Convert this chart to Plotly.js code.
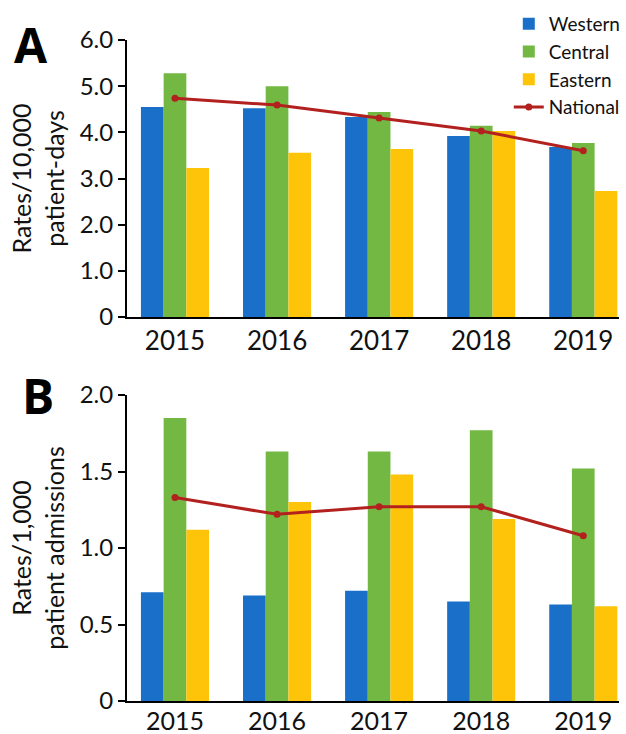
<!DOCTYPE html>
<html>
<head>
<meta charset="utf-8">
<script src="https://cdn.plot.ly/plotly-3.0.1.min.js"></script>
<style>html,body{margin:0;padding:0;background:#fff;}#chart{width:626px;height:734px;}</style>
</head>
<body>
<div id="chart"></div>
<script>
const years = ["2015", "2016", "2017", "2018", "2019"];
// Panel A: rates per 10,000 patient-days
const westernA = [4.55, 4.52, 4.33, 3.92, 3.68];
const centralA = [5.28, 5.00, 4.44, 4.14, 3.77];
const easternA = [3.23, 3.56, 3.64, 4.03, 2.73];
const nationalA = [4.74, 4.59, 4.31, 4.03, 3.60];
// Panel B: rates per 1,000 patient admissions
const westernB = [0.71, 0.69, 0.72, 0.65, 0.63];
const centralB = [1.85, 1.63, 1.63, 1.77, 1.52];
const easternB = [1.12, 1.30, 1.48, 1.19, 0.62];
const nationalB = [1.33, 1.22, 1.27, 1.27, 1.08];
const tickValsA = [0, 1, 2, 3, 4, 5, 6];
const tickTextA = ["0", "1.0", "2.0", "3.0", "4.0", "5.0", "6.0"];
const tickValsB = [0, 0.5, 1, 1.5, 2];
const tickTextB = ["0", "0.5", "1.0", "1.5", "2.0"];

const cBlue = "#1a6fc9", cGreen = "#72b843", cYellow = "#fdc40a", cRed = "#b3211f";
const FONT = "Lato, 'Open Sans', sans-serif";

function bar(name, y, color, xa, ya, show) {
  return {type: "bar", name: name, x: years, y: y, xaxis: xa, yaxis: ya,
    marker: {color: color}, showlegend: show, hoverinfo: "y"};
}
function line(name, y, xa, ya, show) {
  return {type: "scatter", mode: "lines+markers", name: name, x: years, y: y, xaxis: xa, yaxis: ya,
    line: {color: cRed, width: 3}, marker: {color: cRed, size: 7}, showlegend: show};
}

const data = [
  bar("Western", westernA, cBlue, "x", "y", true),
  bar("Central", centralA, cGreen, "x", "y", true),
  bar("Eastern", easternA, cYellow, "x", "y", true),
  line("National", nationalA, "x", "y", true),
  bar("Western", westernB, cBlue, "x2", "y2", false),
  bar("Central", centralB, cGreen, "x2", "y2", false),
  bar("Eastern", easternB, cYellow, "x2", "y2", false),
  line("National", nationalB, "x2", "y2", false)
];

const H = 734;
const xCommon = {type: "category", range: [-0.47, 4.35], showline: true, linecolor: "#000", linewidth: 2,
  ticks: "", showgrid: false, zeroline: false, tickfont: {size: 26, color: "#111", family: FONT}, fixedrange: true};
const yCommon = {showline: true, linecolor: "#000", linewidth: 2, ticks: "outside", ticklen: 7, tickwidth: 2,
  tickcolor: "#000", showgrid: false, zeroline: false, tickfont: {size: 24, color: "#111", family: FONT}, fixedrange: true};

const layout = {
  width: 626, height: 734,
  margin: {l: 127, r: 0, t: 0, b: 0},
  paper_bgcolor: "#fff", plot_bgcolor: "#fff",
  font: {family: FONT, color: "#111"},
  barmode: "group", bargap: 0.333, bargroupgap: 0,
  showlegend: true,
  legend: {x: 0.776, y: 1 - 5 / H, xanchor: "left", yanchor: "top", font: {size: 19, family: FONT, color: "#111"},
    bgcolor: "rgba(0,0,0,0)", tracegroupgap: 0, itemwidth: 30},
  xaxis: Object.assign({}, xCommon, {anchor: "y", domain: [0, 1]}),
  xaxis2: Object.assign({}, xCommon, {anchor: "y2", domain: [0, 1], ticklabelstandoff: -3,
    tickfont: {size: 25, color: "#111", family: FONT}}),
  yaxis: Object.assign({}, yCommon, {anchor: "x", domain: [1 - 317 / H, 1 - 40 / H], range: [0, 6],
    tickvals: tickValsA, ticktext: tickTextA,
    title: {text: "Rates/10,000<br>patient-days", font: {size: 25, family: FONT, color: "#111"}, standoff: 8}}),
  yaxis2: Object.assign({}, yCommon, {anchor: "x2", domain: [1 - 701 / H, 1 - 395 / H], range: [0, 2],
    tickvals: tickValsB, ticktext: tickTextB,
    title: {text: "Rates/1,000<br>patient admissions", font: {size: 25, family: FONT, color: "#111"}, standoff: 8}}),
  annotations: [
    {text: "<b>A</b>", xref: "paper", yref: "paper", xanchor: "left", yanchor: "top",
      showarrow: false, font: {size: 48, family: "'Open Sans', Arial, sans-serif", color: "#000"}},
    {text: "<b>B</b>", xref: "paper", yref: "paper", xanchor: "left", yanchor: "top",
      showarrow: false, font: {size: 48, family: "'Open Sans', Arial, sans-serif", color: "#000"}}
  ]
};
// position panel letters in pixel terms converted to paper coords
const plotW = 626 - 127;
layout.annotations[0].x = (10 - 127) / plotW; layout.annotations[0].y = 1 - 10 / H;
layout.annotations[1].x = (18 - 127) / plotW; layout.annotations[1].y = 1 - 361 / H;

Plotly.newPlot("chart", data, layout, {displayModeBar: false, staticPlot: true});
</script>
</body>
</html>
